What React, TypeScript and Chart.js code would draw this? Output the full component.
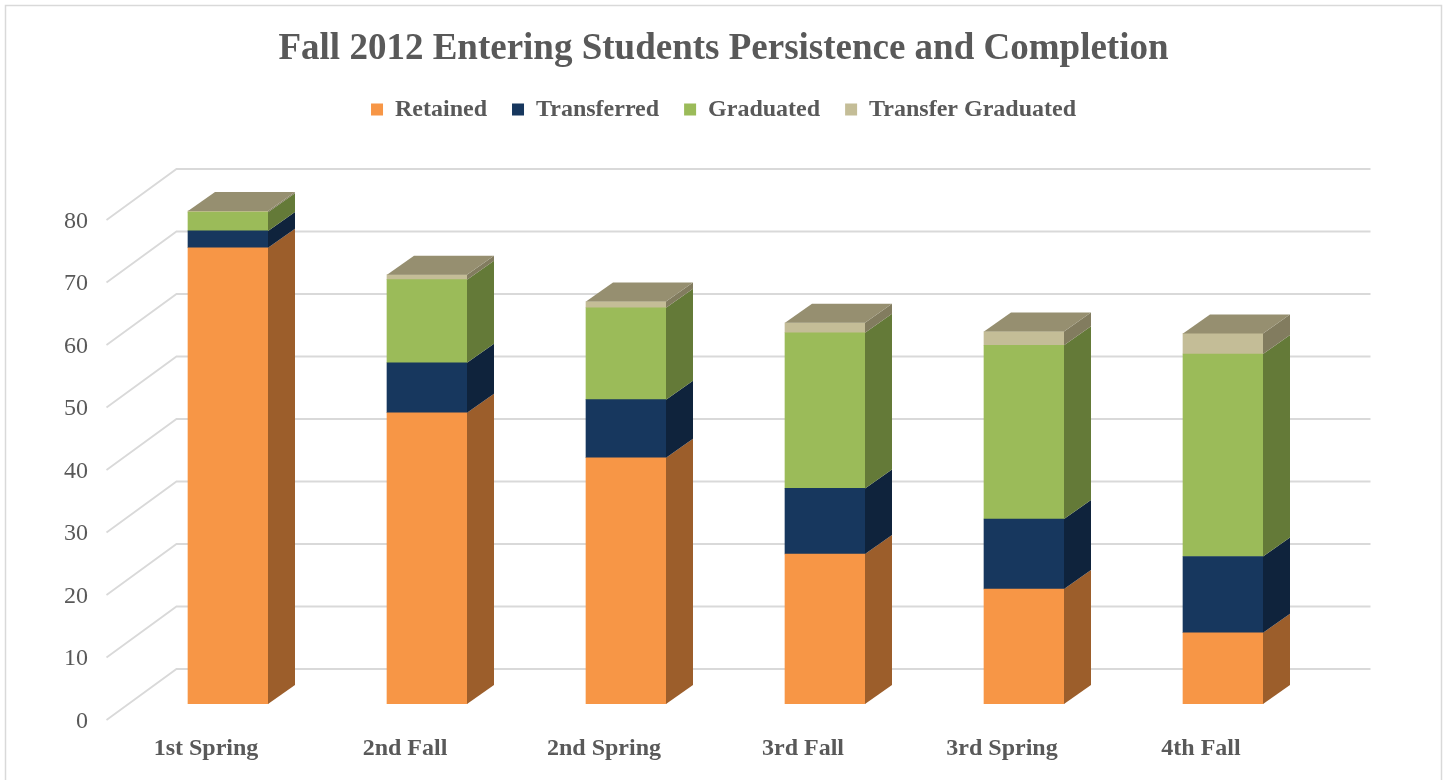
import React, { useEffect, useRef } from 'react';
import { Chart, registerables } from 'chart.js';

Chart.register(...registerables);

// ---------------- data ----------------
const categories = ['1st Spring', '2nd Fall', '2nd Spring', '3rd Fall', '3rd Spring', '4th Fall'];
const retained = [73.0, 46.6, 39.4, 24.0, 18.4, 11.4];
const transferred = [2.7, 8.0, 9.3, 10.5, 11.2, 12.2];
const graduated = [3.0, 13.3, 14.7, 24.9, 27.8, 32.4];
const transferGraduated = [0.2, 0.8, 1.0, 1.6, 2.2, 3.3];
const yTickValues = [0, 10, 20, 30, 40, 50, 60, 70, 80];
const seriesNames = ['Retained', 'Transferred', 'Graduated', 'Transfer Graduated'];
const titleText = 'Fall 2012 Entering Students Persistence and Completion';

// ---------------- styles ----------------
const frontColors = ['#f79646', '#17375e', '#9bbb59', '#c4bd97'];
const sideColors = ['#9c5e2b', '#0f233c', '#647a38', '#827c5f'];
const topColors = ['#b06a30', '#1d3352', '#7f944a', '#968f70'];
const TEXT = '#595959';
const FONT = "'Liberation Serif', 'Times New Roman', serif";
const BAR_DEPTH = { dx: 27, dy: -19 };
const WALL_BACK = { dx: 48, dy: -35 };
const WALL_FRONT = { dx: -22, dy: 16 };

const threeDPlugin = {
  id: 'threeD',
  beforeDraw(chart: any) {
    const ctx = chart.ctx;
    ctx.save();
    ctx.strokeStyle = '#d9d9d9';
    ctx.lineWidth = 1.5;
    ctx.strokeRect(5.5, 5.5, chart.width - 11, chart.height + 50);
    ctx.restore();
  },
  beforeDatasetsDraw(chart: any) {
    const { ctx, chartArea } = chart;
    const y = chart.scales.y;
    ctx.save();
    ctx.strokeStyle = '#d9d9d9';
    ctx.lineWidth = 1.8;
    yTickValues.forEach((v) => {
      const py = y.getPixelForValue(v);
      ctx.beginPath();
      ctx.moveTo(chartArea.left + WALL_FRONT.dx, py + WALL_FRONT.dy);
      ctx.lineTo(chartArea.left + WALL_BACK.dx, py + WALL_BACK.dy);
      ctx.lineTo(chartArea.right + WALL_BACK.dx, py + WALL_BACK.dy);
      ctx.stroke();
    });
    ctx.restore();
  },
  afterDatasetsDraw(chart: any) {
    const ctx = chart.ctx;
    const nSets = chart.data.datasets.length;
    const nCats = chart.data.labels.length;
    ctx.save();
    // side faces
    for (let d = 0; d < nSets; d++) {
      const meta = chart.getDatasetMeta(d);
      meta.data.forEach((el: any) => {
        const p = el.getProps(['x', 'y', 'base', 'width'], true);
        const top = Math.min(p.y, p.base);
        const bottom = Math.max(p.y, p.base);
        if (bottom - top < 0.01) return;
        const right = p.x + p.width / 2;
        ctx.fillStyle = sideColors[d];
        ctx.beginPath();
        ctx.moveTo(right, top);
        ctx.lineTo(right + BAR_DEPTH.dx, top + BAR_DEPTH.dy);
        ctx.lineTo(right + BAR_DEPTH.dx, bottom + BAR_DEPTH.dy);
        ctx.lineTo(right, bottom);
        ctx.closePath();
        ctx.fill();
      });
    }
    // top faces
    for (let i = 0; i < nCats; i++) {
      for (let d = nSets - 1; d >= 0; d--) {
        const v = chart.data.datasets[d].data[i];
        if (!v) continue;
        const el = chart.getDatasetMeta(d).data[i];
        const p = el.getProps(['x', 'y', 'base', 'width'], true);
        const top = Math.min(p.y, p.base);
        const left = p.x - p.width / 2;
        const right = p.x + p.width / 2;
        ctx.fillStyle = topColors[d];
        ctx.beginPath();
        ctx.moveTo(left, top);
        ctx.lineTo(left + BAR_DEPTH.dx, top + BAR_DEPTH.dy);
        ctx.lineTo(right + BAR_DEPTH.dx, top + BAR_DEPTH.dy);
        ctx.lineTo(right, top);
        ctx.closePath();
        ctx.fill();
        break;
      }
    }
    ctx.restore();
  },
};

export default function App() {
  const canvasRef = useRef<HTMLCanvasElement | null>(null);

  useEffect(() => {
    const canvas = canvasRef.current;
    if (!canvas) return;
    const seriesData = [retained, transferred, graduated, transferGraduated];
    const chart = new Chart(canvas, {
      type: 'bar',
      data: {
        labels: categories,
        datasets: seriesNames.map((name, i) => ({
          label: name,
          data: seriesData[i],
          backgroundColor: frontColors[i],
          borderWidth: 0,
          barThickness: 80,
        })),
      },
      options: {
        responsive: false,
        animation: false,
        layout: { padding: { left: 0, right: 0, top: 0, bottom: 16.6 } },
        plugins: {
          title: {
            display: true,
            text: titleText,
            color: TEXT,
            font: { family: FONT, size: 37, weight: 'bold', lineHeight: 1 },
            padding: { top: 30.5, bottom: 5 },
          },
          legend: {
            display: true,
            position: 'top',
            labels: {
              color: TEXT,
              font: { family: FONT, size: 24, weight: 'bold' },
              boxWidth: 12,
              boxHeight: 12,
              padding: 25,
            },
          },
          subtitle: {
            display: true,
            text: ' ',
            weight: 500,
            font: { size: 10, lineHeight: 1 },
            padding: { top: 0, bottom: 62.5 },
          },
          tooltip: { enabled: false },
        },
        scales: {
          x: {
            stacked: true,
            grid: { display: false, drawTicks: false },
            border: { display: false },
            ticks: {
              color: TEXT,
              font: { family: FONT, size: 24, weight: 'bold' },
              padding: 30.6,
              labelOffset: -22,
              maxRotation: 0,
              autoSkip: false,
            },
            afterFit: (scale: any) => {
              scale.height = 59.4;
            },
          },
          y: {
            stacked: true,
            min: 0,
            max: 80,
            grid: { display: false, drawTicks: false },
            border: { display: false },
            ticks: {
              stepSize: 10,
              color: TEXT,
              font: { family: FONT, size: 24 },
              padding: 40.5,
              labelOffset: 17.5,
            },
            afterFit: (scale: any) => {
              scale.width = 128.5;
            },
          },
          ySpacer: {
            type: 'linear',
            position: 'right',
            display: true,
            grid: { display: false, drawTicks: false },
            border: { display: false },
            ticks: { display: false },
            afterFit: (scale: any) => {
              scale.width = 124.5;
            },
          },
        },
      },
      plugins: [threeDPlugin],
    } as any);
    return () => chart.destroy();
  }, []);

  return (
    <div style={{ position: 'fixed', left: 0, top: 0, width: 1447, height: 780, background: '#ffffff' }}>
      <canvas ref={canvasRef} width={1447} height={780} style={{ display: 'block' }} />
    </div>
  );
}
